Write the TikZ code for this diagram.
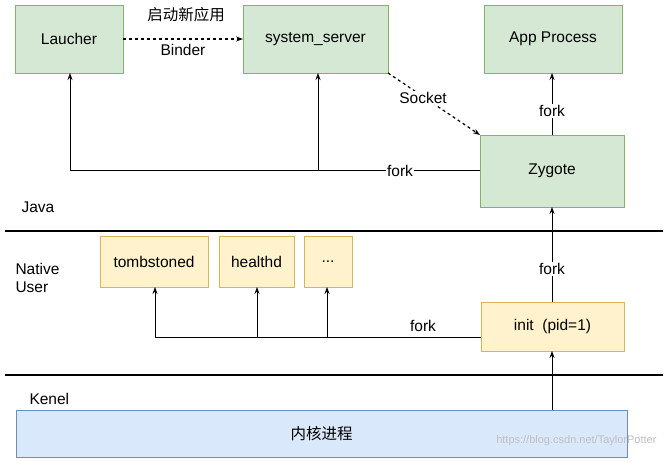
\documentclass[tikz,border=0pt]{standalone}
\usepackage{fontspec}
\setmainfont{Liberation Sans}
\newfontfamily\cjk{Noto Sans CJK SC}
\usetikzlibrary{arrows.meta}
\definecolor{gf}{HTML}{D5E8D4}\definecolor{gs}{HTML}{82B366}
\definecolor{yf}{HTML}{FFF2CC}\definecolor{ys}{HTML}{D6B656}
\definecolor{bf}{HTML}{DAE8FC}\definecolor{bs}{HTML}{6C8EBF}
\begin{document}
\begin{tikzpicture}[x=1pt,y=-1pt,font=\fontsize{15.5}{18}\selectfont,
 g/.style={draw=gs,fill=gf},
 yb/.style={draw=ys,fill=yf},
 ar/.style={-{Stealth[length=7pt,width=5pt]},line width=0.8pt},
 da/.style={ar,dashed,line width=1.2pt},
 lb/.style={fill=white,inner sep=1pt}]
\useasboundingbox (0,0) rectangle (668,462);
\fill[white] (0,0) rectangle (668,462);
\draw[g] (15,5) rectangle node (la) {Laucher} (123,73);
\draw[g] (243,5) rectangle node (ss) {system\_server} (388,73);
\draw[g] (484,5) rectangle node (ap) {App Process} (622,73);
\draw[g] (480,135) rectangle node (zy) {Zygote} (624,207);
\draw[yb] (100,236) rectangle node (tb) {tombstoned} (208,287);
\draw[yb] (219,236) rectangle node (hd) {healthd} (294,287);
\draw[yb] (304,236) rectangle node (dd) {...} (352,287);
\draw[yb] (481,302) rectangle node (in) {init\ \ (pid=1)} (624,351);
\draw[draw=bs,fill=bf] (16,410) rectangle node (kn) {{\cjk 内核进程}} (627,457);
\draw[line width=1.5pt] (5,231) -- (663,231);
\draw[line width=1.5pt] (5,375) -- (663,375);
\node[anchor=west] (java) at (18,207) {Java};
\node[anchor=west,align=left] (nu) at (12,278) {Native\\User};
\node[anchor=west] (ke) at (26,399) {Kenel};
\coordinate (c1) at (123,39); \coordinate (c2) at (243,39);
\draw[da] (c1) -- (c2);
\node (t1) at (186,15) {{\cjk 启动新应用}};
\node (t2) at (183,50) {Binder};
\coordinate (s1) at (388,73); \coordinate (z1) at (480,135);
\draw[da] (s1) -- (z1);
\node[lb] (sk) at (423,98) {Socket};
\coordinate (za) at (552,135); \coordinate (apb) at (552,73);
\draw[ar] (za) -- (apb);
\node[lb] (f0) at (552,111) {fork};
\coordinate (zl) at (480,170);
\draw[ar] (zl) -- (70,170) -- (70,73);
\draw[ar] (318,170) -- (318,73);
\node[lb] (f1) at (400,171) {fork};
\coordinate (it) at (552,302); \coordinate (zb) at (552,207);
\draw[ar] (it) -- (zb);
\node[lb] (f3) at (552,269) {fork};
\coordinate (il) at (481,337);
\draw[ar] (il) -- (155,337) -- (155,287);
\draw[ar] (257,337) -- (257,287);
\draw[ar] (327,337) -- (327,287);
\node (f2) at (423,326) {fork};
\coordinate (kt) at (552,410); \coordinate (ib) at (552,351);
\draw[ar] (kt) -- (ib);
\node[text=gray!50,font=\fontsize{11}{12}\selectfont,anchor=east] (wm) at (660,441) {https://blog.csdn.net/TaylorPotter};
\end{tikzpicture}
\end{document}
